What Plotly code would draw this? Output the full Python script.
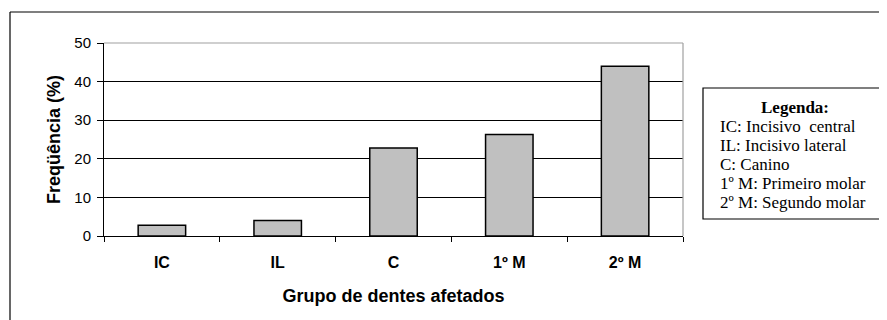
import plotly.graph_objects as go

categories = ["IC", "IL", "C", "1º M", "2º M"]
frequencies = [2.8, 4.0, 22.8, 26.3, 44.0]
y_ticks = [0, 10, 20, 30, 40, 50]
legend_title = "Legenda:"
legend_lines = [
    "IC: Incisivo  central",
    "IL: Incisivo lateral",
    "C: Canino",
    "1º M: Primeiro molar",
    "2º M: Segundo molar",
]

OFF = 8  # page body margin
W, H = 887 - OFF, 320 - OFF
# plot area in screen pixels (reference), converted to figure pixels
L, R, T, B = 104 - OFF, 683 - OFF, 43 - OFF, 236 - OFF


def px(x):
    return (x - OFF - L) / (R - L)


def py(y):
    return (B - (y - OFF)) / (B - T)


fig = go.Figure()
fig.add_trace(go.Bar(
    x=categories, y=frequencies,
    marker=dict(color="#c0c0c0", line=dict(color="black", width=1.5)),
    hoverinfo="x+y",
))

shapes = [
    dict(type="line", xref="paper", yref="paper", x0=0, x1=1, y0=1, y1=1,
         line=dict(color="#a0a0a0", width=1.2), layer="above"),
    dict(type="line", xref="paper", yref="paper", x0=1, x1=1, y0=0, y1=1,
         line=dict(color="#a0a0a0", width=1.2), layer="above"),
    dict(type="line", xref="paper", yref="paper", x0=px(10), x1=px(10), y0=py(12), y1=py(340),
         line=dict(color="black", width=1.2)),
    dict(type="line", xref="paper", yref="paper", x0=px(10), x1=px(900), y0=py(12), y1=py(12),
         line=dict(color="black", width=1.2)),
    dict(type="rect", xref="paper", yref="paper", x0=px(703), x1=px(885), y0=py(88), y1=py(219),
         line=dict(color="black", width=1.2), fillcolor="white"),
]

serif = dict(family="Liberation Serif, Times New Roman, serif", size=17, color="black")
annotations = [
    dict(text="<b>" + legend_title + "</b>", xref="paper", yref="paper",
         x=px(795), y=py(107), xanchor="center", yanchor="middle", showarrow=False,
         font=serif),
]
for i, line in enumerate(legend_lines):
    annotations.append(dict(
        text=line.replace("  ", "&nbsp; "), xref="paper", yref="paper",
        x=px(718), y=py(126 + 19 * i), xanchor="left", yanchor="middle", showarrow=False,
        font=serif))

fig.update_layout(
    width=W, height=H,
    margin=dict(l=L, r=W - R, t=T, b=H - B, pad=0, autoexpand=False),
    paper_bgcolor="white", plot_bgcolor="white",
    bargap=0.59,
    showlegend=False,
    shapes=shapes,
    annotations=annotations,
    font=dict(family="Arial, Liberation Sans", color="black"),
    xaxis=dict(
        type="category", tickson="boundaries", ticks="outside", ticklen=5, tickcolor="black",
        showline=True, linecolor="black", linewidth=1, showgrid=False,
        tickfont=dict(size=16), ticklabelstandoff=12,
        tickvals=categories, ticktext=["<b>" + c + "</b>" for c in categories],
        title=dict(text="<b>Grupo de dentes afetados</b>", font=dict(size=18), standoff=19),
        automargin=False,
    ),
    yaxis=dict(
        range=[0, 50], tickvals=y_ticks, ticks="outside", ticklen=6, tickcolor="black",
        showline=True, linecolor="black", linewidth=1,
        showgrid=True, gridcolor="black", gridwidth=1, zeroline=False,
        tickfont=dict(size=15), ticklabelstandoff=3,
        title=dict(text="<b>Freqüência (%)</b>", font=dict(size=18), standoff=9),
        automargin=False,
    ),
)

fig.write_html("out.html")
